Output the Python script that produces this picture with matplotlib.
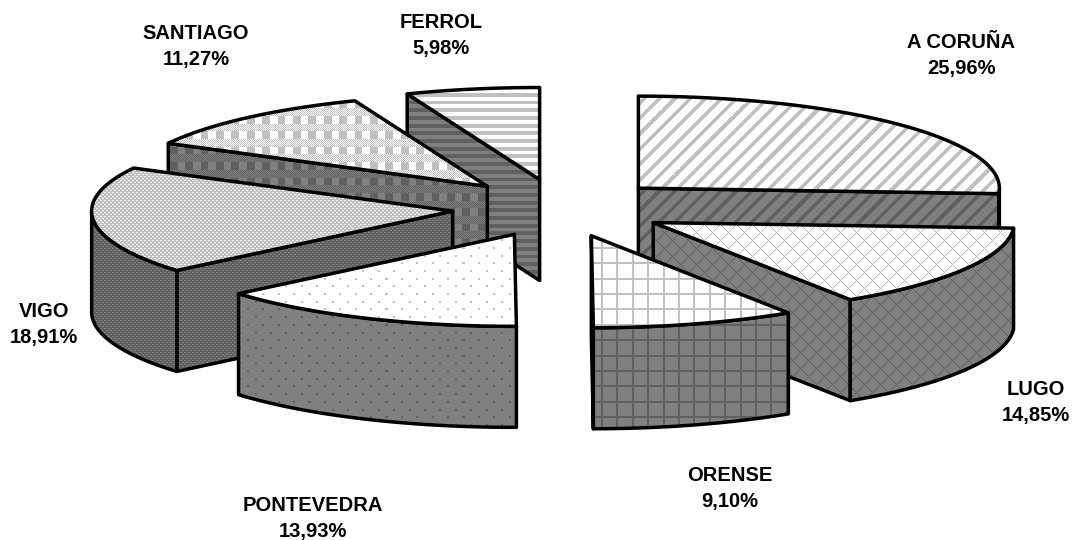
import numpy as np
import matplotlib
matplotlib.use("Agg")
import matplotlib.pyplot as plt
from matplotlib.path import Path
from matplotlib.patches import PathPatch

# --- data ---
names = ["A CORUÑA", "LUGO", "ORENSE", "PONTEVEDRA", "VIGO", "SANTIAGO", "FERROL"]
shares = [25.96, 14.85, 9.10, 13.93, 18.91, 11.27, 5.98]
share_labels = ["25,96%", "14,85%", "9,10%", "13,93%", "18,91%", "11,27%", "5,98%"]
label_x = [961, 1036, 730, 313, 44, 196, 441]
label_y = [55.5, 402.5, 488.5, 518.5, 324.5, 46.5, 35.5]
draw_order = ["FERROL", "A CORUÑA", "SANTIAGO", "LUGO", "VIGO", "ORENSE", "PONTEVEDRA"]

W, H = 1074, 540
CX, CY = 559, 208
RX, RY = 361, 92
DEPTH = 101
EXPLODE_X = 109
EXPLODE_Y = 29
LW = 2.5
P = 15.4
x_nudge = {"VIGO": 2, "ORENSE": 1, "PONTEVEDRA": 1, "SANTIAGO": 1, "FERROL": 1}

fig = plt.figure(figsize=(W / 100, H / 100), dpi=100)
ax = fig.add_axes([0, 0, 1, 1])
ax.set_axis_off()

yy, xx = np.mgrid[0:H, 0:W]
u = xx / P
v = yy / P


def pat_diag():
    return ((u + v) % 1) < 0.33


def pat_diamond():
    a = (xx + yy) % 16 == 0
    b = (xx - yy) % 16 == 0
    return a | b


def pat_grid():
    return (u % 1 < 0.125) | (v % 1 < 0.125)


def pat_sparse():
    row = np.floor(v * 2).astype(int)
    return ((v * 2) % 1 < 0.25) & (((u + 0.5 * (row % 2)) % 1) < 0.13)


def pat_dense():
    # True = foreground grey; light square dots are left out
    p = 4.0
    r = np.floor(yy / p * 2).astype(int)
    return ~(((yy / p * 2) % 1 < 0.5) & (((xx / p + 0.5 * (r % 2)) % 1) < 0.5))


def pat_shingle():
    band = np.floor(v * 2).astype(int) % 2
    fine = (xx + yy) % 2 == 0
    big = (u % 1) < 0.5
    return np.where(band == 0, fine, big)


def pat_horizontal():
    return (v * 2) % 1 < 0.5


patterns = {
    "A CORUÑA": (pat_diag, 192),
    "LUGO": (pat_diamond, 185),
    "ORENSE": (pat_grid, 192),
    "PONTEVEDRA": (pat_sparse, 192),
    "VIGO": (pat_dense, 192),
    "SANTIAGO": (pat_shingle, 192),
    "FERROL": (pat_horizontal, 192),
}


def fill(path, mask, fg, bg):
    img = np.where(mask, fg, bg).astype(float)
    patch = PathPatch(path, facecolor="none", edgecolor="none", transform=ax.transData)
    ax.add_patch(patch)
    im = ax.imshow(img, cmap="gray", vmin=0, vmax=255, extent=(0, W, H, 0),
                   interpolation="nearest", aspect="auto", zorder=z[0])
    im.set_clip_path(patch)
    z[0] += 1
    ax.add_patch(PathPatch(path, facecolor="none", edgecolor="black", lw=LW,
                           joinstyle="round", zorder=z[0]))
    z[0] += 1


def rim(cx, cy, a1, a2, dy=0):
    t = np.radians(np.linspace(a1, a2, max(int(abs(a2 - a1) * 2), 2)))
    return np.column_stack([cx + RX * np.sin(t), cy - RY * np.cos(t) + dy])


z = [1]
total = sum(shares)
edges = np.concatenate([[0], np.cumsum(shares)]) / total * 360
spans = {n: (edges[i], edges[i + 1]) for i, n in enumerate(names)}

for name in draw_order:
    a1, a2 = spans[name]
    mid = np.radians((a1 + a2) / 2)
    cx = CX + EXPLODE_X * np.sin(mid) + x_nudge.get(name, 0)
    cy = CY - EXPLODE_Y * np.cos(mid)
    func, fg = patterns[name]
    mask = func()
    wall_fg = fg * 128 / 255
    apex = np.array([cx, cy])
    # cut faces
    for ang, show in ((a2, 0 < a2 < 180), (a1, 180 < a1 < 360)):
        if show:
            e = rim(cx, cy, ang, ang + 1e-6)[0]
            poly = np.array([apex, e, e + [0, DEPTH], apex + [0, DEPTH], apex])
            fill(Path(poly, closed=True), mask, wall_fg, 128)
    # outer wall, front half only
    f1, f2 = max(a1, 90), min(a2, 270)
    if f2 > f1:
        r = rim(cx, cy, f1, f2)
        poly = np.vstack([r, r[::-1] + [0, DEPTH], r[:1]])
        fill(Path(poly, closed=True), mask, wall_fg, 128)
    # top
    r = rim(cx, cy, a1, a2)
    poly = np.vstack([apex, r, apex])
    fill(Path(poly, closed=True), mask, fg, 255)

ax.set_xlim(0, W)
ax.set_ylim(H, 0)

for n, s, x, y in zip(names, share_labels, label_x, label_y):
    ax.text(x, y, f"{n}\n{s}", ha="center", va="center", multialignment="center",
            family="Liberation Sans", fontweight="bold", fontsize=14.5,
            linespacing=1.45, color="black", zorder=500)

fig.savefig("out.png", dpi=100, facecolor="white")
